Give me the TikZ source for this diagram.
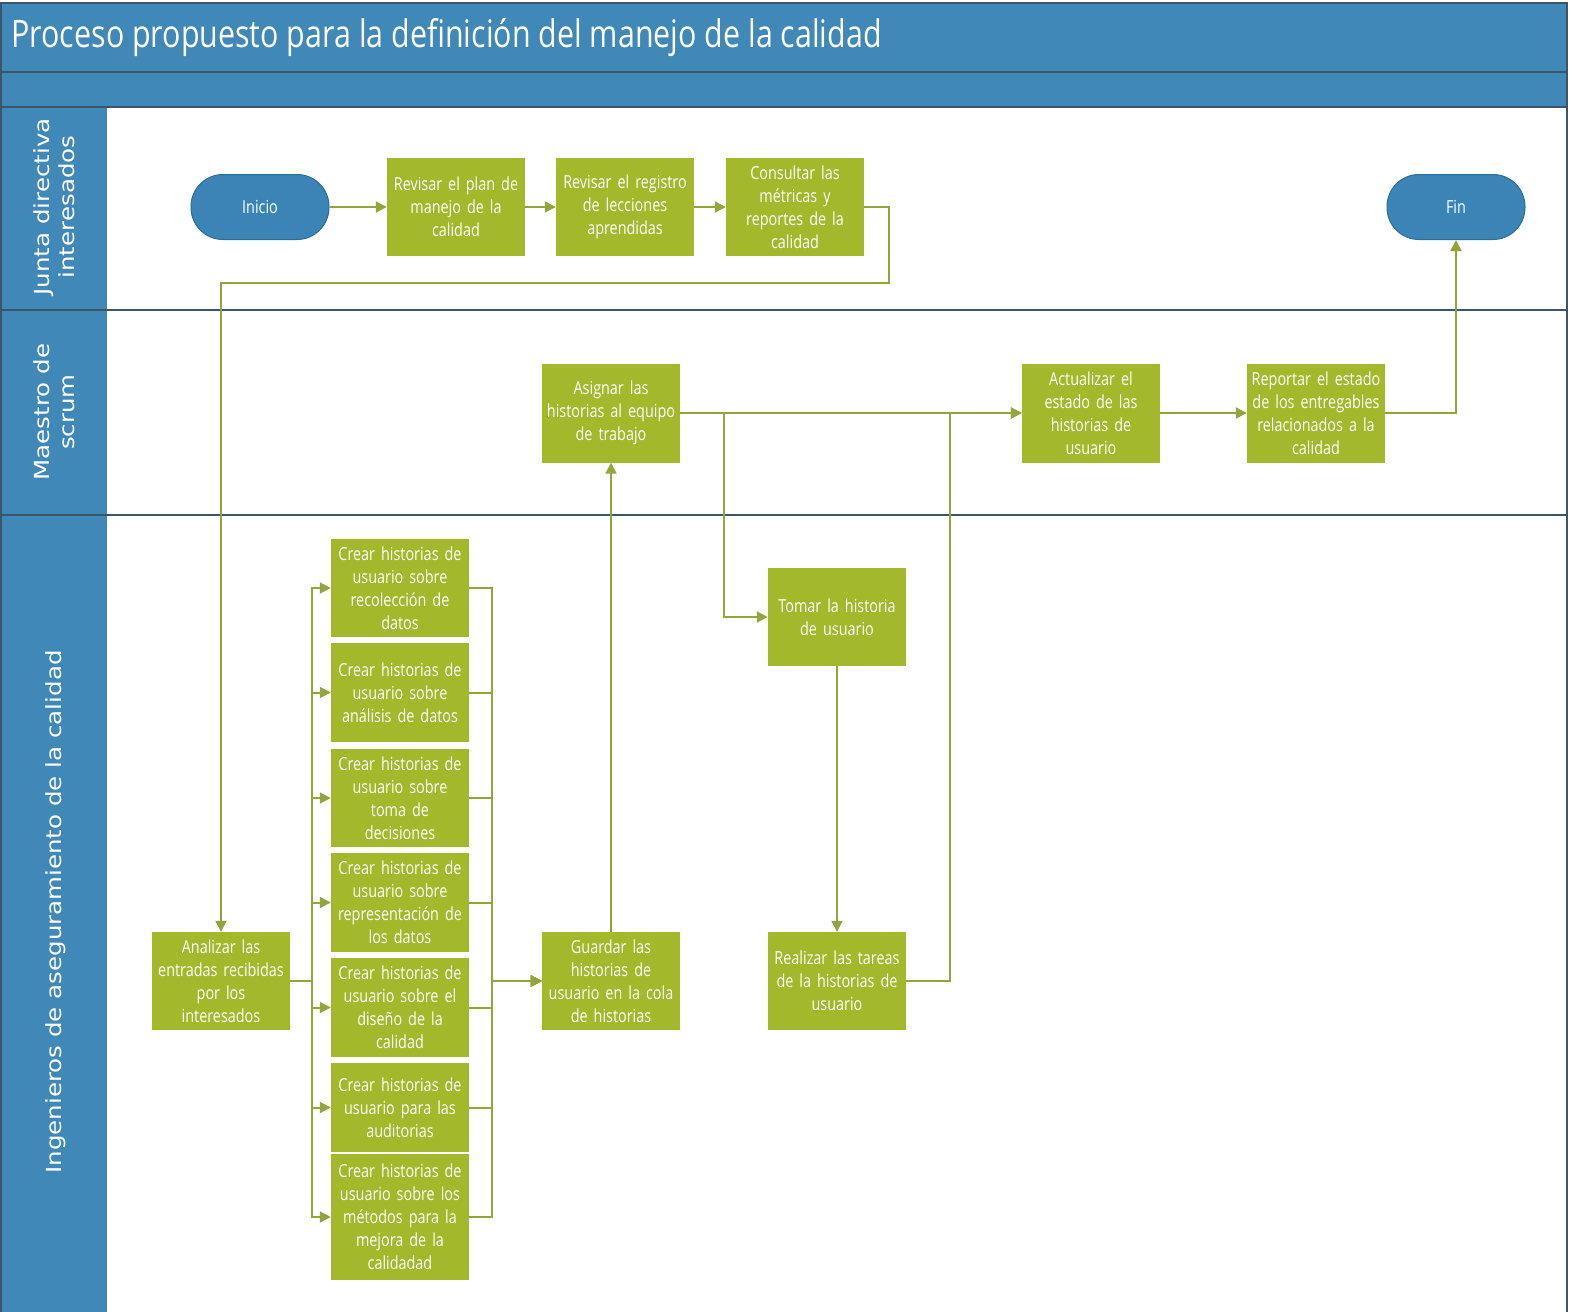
\documentclass[tikz,border=0pt]{standalone}
\usepackage{fontspec}
\setmainfont{Open Sans}[FakeStretch=0.8, WordSpace=0.55]
\newfontfamily\titlefont{Open Sans}[FakeStretch=0.8]
\newfontfamily\lanefont{DejaVu Sans}
\usetikzlibrary{arrows.meta}
\definecolor{barblue}{HTML}{4088B8}
\definecolor{termblue}{HTML}{3A85B5}
\definecolor{termedge}{HTML}{2C6E99}
\definecolor{taskgreen}{HTML}{A4B82C}
\definecolor{linkcol}{HTML}{93A63E}
\definecolor{rulecol}{HTML}{3C5568}
\newcommand{\lanelabel}[1]{\scalebox{1}[0.85]{\begin{tabular}{@{}c@{}}#1\end{tabular}}}
\begin{document}
\begin{tikzpicture}[x=1pt,y=-1pt,
  task/.style={fill=taskgreen, text=white, minimum width=138pt, minimum height=98pt,
    inner sep=0pt, align=center, text width=136pt, font=\fontsize{18}{23}\selectfont},
  term/.style={fill=termblue, draw=termedge, line width=1pt, rounded corners=32pt,
    minimum width=138pt, minimum height=65pt, text=white, font=\fontsize{18}{23}\selectfont},
  lanetitle/.style={text=white, rotate=90, inner sep=0pt, font=\lanefont\fontsize{24.5}{29}\selectfont},
  conn/.style={draw=linkcol, line width=2pt},
  arr/.style={conn, -{Triangle[length=11pt,width=11pt]}},
  rule/.style={draw=rulecol, line width=2pt}]
\useasboundingbox (0,0) rectangle (1572,1312);
\fill[white] (0,0) rectangle (1572,1312);

% header bars and lane column
\fill[barblue] (0,3) rectangle (1568,107);
\fill[barblue] (0,107) rectangle (107,1312);
\draw[rule] (0,72) -- (1568,72);
\draw[rule] (0,107) -- (1568,107);
\draw[rule] (0,310) -- (1568,310);
\draw[rule] (0,515) -- (1568,515);
\draw[rule] (1,1312) -- (1,3) -- (1567,3) -- (1567,1312);

\node[anchor=west, text=white, font=\titlefont\fontsize{38}{42}\selectfont] (title) at (8,38)
  {Proceso propuesto para la definición del manejo de la calidad};

% lane titles
\node[lanetitle] (lane1) at (57,207) {\lanelabel{Junta directiva\\interesados}};
\node[lanetitle] (lane2) at (57,412) {\lanelabel{Maestro de\\scrum}};
\node[lanetitle] (lane3) at (57,912) {\lanelabel{Ingenieros de aseguramiento de la calidad}};

% lane 1
\node[term] (inicio) at (260,207) {Inicio};
\node[task] (plan) at (456,207) {Revisar el plan de\\manejo de la\\calidad};
\node[task] (registro) at (625,207) {Revisar el registro\\de lecciones\\aprendidas};
\node[task] (metricas) at (795,207) {Consultar las\\métricas y\\reportes de la\\calidad};
\node[term] (fin) at (1456,207) {Fin};

% lane 2
\node[task, minimum height=99pt] (asignar) at (611,413) {Asignar las\\historias al equipo\\de trabajo};
\node[task, minimum height=99pt] (actualizar) at (1091,413) {Actualizar el\\estado de las\\historias de\\usuario};
\node[task, minimum height=99pt] (reportar) at (1316,413) {Reportar el estado\\de los entregables\\relacionados a la\\calidad};

% lane 3
\node[task] (analizar) at (221,981) {Analizar las\\entradas recibidas\\por los\\interesados};
\node[task] (guardar) at (611,981) {Guardar las\\historias de\\usuario en la cola\\de historias};
\node[task] (tomar) at (837,617) {Tomar la historia\\de usuario};
\node[task] (realizar) at (837,981) {Realizar las tareas\\de la historias de\\usuario};

\node[task] (c1) at (400,588) {Crear historias de\\usuario sobre\\recolección de\\datos};
\node[task, minimum height=99pt] (c2) at (400,692.5) {Crear historias de\\usuario sobre\\análisis de datos};
\node[task] (c3) at (400,798) {Crear historias de\\usuario sobre\\toma de\\decisiones};
\node[task, minimum height=99pt] (c4) at (400,902.5) {Crear historias de\\usuario sobre\\representación de\\los datos};
\node[task, minimum height=99pt] (c5) at (400,1007.5) {Crear historias de\\usuario sobre el\\diseño de la\\calidad};
\node[task, minimum height=89pt] (c6) at (400,1107.5) {Crear historias de\\usuario para las\\auditorias};
\node[task, minimum height=126pt] (c7) at (400,1217) {Crear historias de\\usuario sobre los\\métodos para la\\mejora de la\\calidadad};

% connectors
\draw[arr] (inicio) -- (plan);
\draw[arr] (plan) -- (registro);
\draw[arr] (registro) -- (metricas);
\draw[arr] (metricas.east) -- ++(25,0) -- ++(0,76) -| (analizar.north);

\foreach \c in {c1,c2,c3,c4,c5,c6,c7}{
  \draw[arr] (analizar.east) -- ++(22,0) |- (\c.west);
  \draw[arr] (\c.east) -- ++(23,0) |- (guardar.west);
}
\draw[arr] (guardar) -- (asignar);
\draw[arr] (asignar) -- (actualizar);
\draw[arr] (asignar.east) -- (724,413) |- (tomar.west);
\draw[arr] (tomar) -- (realizar);
\draw[arr] (realizar.east) -- (950,981) |- (actualizar.west);
\draw[arr] (actualizar) -- (reportar);
\draw[arr] (reportar.east) -| (fin.south);
\end{tikzpicture}
\end{document}
